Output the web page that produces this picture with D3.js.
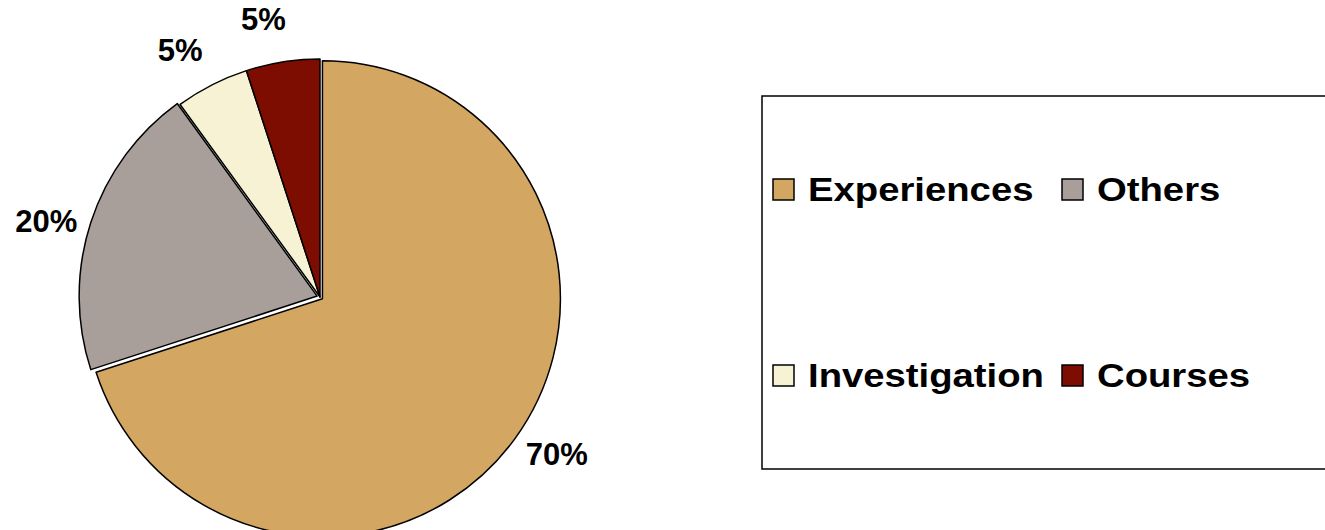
<!DOCTYPE html>
<html>
<head>
<meta charset="utf-8">
<script src="https://cdn.jsdelivr.net/npm/d3@7"></script>
<style>
  body { margin: 0; background: #fff; }
  text { font-family: "Liberation Sans", Arial, sans-serif; font-weight: bold; fill: #000; }
</style>
</head>
<body>
<svg width="1325" height="530"></svg>
<script>
var categories = ['Experiences', 'Others', 'Investigation', 'Courses'];
var values = [70, 20, 5, 5];
var labels = ['70%', '20%', '5%', '5%'];
var colors = ['#D3A662', '#A89F9B', '#F7F2D3', '#7D0D00'];

var svg = d3.select('svg');
var cx = 320, cy = 297, radius = 238;

var pie = d3.pie().sort(null).value(function(d) { return d; });
var arcs = pie(values);

var arc = d3.arc().innerRadius(0).outerRadius(radius);

var g = svg.append('g').attr('transform', 'translate(' + cx + ',' + cy + ')');

// small explosion of two slices, as in the original
var explode = [3, 3, 0, 0];

g.selectAll('path')
  .data(arcs)
  .enter()
  .append('path')
  .attr('d', arc)
  .attr('transform', function(d, i) {
    var a = (d.startAngle + d.endAngle) / 2;
    return 'translate(' + (Math.sin(a) * explode[i]) + ',' + (-Math.cos(a) * explode[i]) + ')';
  })
  .style('fill', function(d, i) { return colors[i]; })
  .style('stroke', '#000')
  .style('stroke-width', 1.5)
  .style('stroke-linejoin', 'round');

// labels sit just outside, a touch counter-clockwise of the mid angle
var labelR = 284, shift = -2.5 * Math.PI / 180;
g.selectAll('text')
  .data(arcs)
  .enter()
  .append('text')
  .attr('x', function(d) { return Math.sin((d.startAngle + d.endAngle) / 2 + shift) * labelR; })
  .attr('y', function(d) { return -Math.cos((d.startAngle + d.endAngle) / 2 + shift) * labelR; })
  .attr('text-anchor', 'middle')
  .attr('dy', '0.36em')
  .style('font-size', '31px')
  .text(function(d, i) { return labels[i]; });

// legend
svg.append('rect')
  .attr('x', 762).attr('y', 96)
  .attr('width', 600).attr('height', 373)
  .style('fill', '#fff')
  .style('stroke', '#000')
  .style('stroke-width', 1.5);

var legendX = [773, 1062];
var legendY = [179, 365];

var item = svg.selectAll('.legend')
  .data(categories)
  .enter()
  .append('g')
  .attr('class', 'legend')
  .attr('transform', function(d, i) {
    return 'translate(' + legendX[i % 2] + ',' + legendY[Math.floor(i / 2)] + ')';
  });

item.append('rect')
  .attr('width', 21).attr('height', 21)
  .style('fill', function(d, i) { return colors[i]; })
  .style('stroke', '#000')
  .style('stroke-width', 1.5);

item.append('text')
  .attr('transform', 'translate(35,22) scale(1.16,1)')
  .style('font-size', '33px')
  .text(function(d) { return d; });
</script>
</body>
</html>
